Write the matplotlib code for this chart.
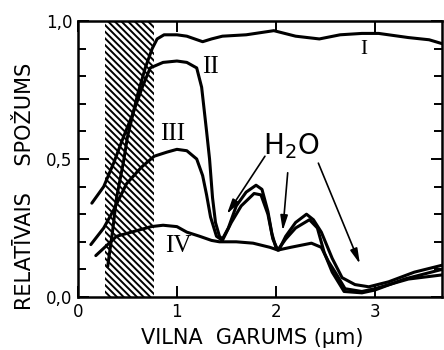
import matplotlib
matplotlib.use("Agg")
import matplotlib.pyplot as plt
from matplotlib.ticker import FixedLocator, MultipleLocator

# ---- data ----
x_I = [0.30, 0.35, 0.39, 0.46, 0.50, 0.60, 0.68, 0.75, 0.80, 0.87, 1.00, 1.10, 1.26, 1.35, 1.46,
       1.70, 1.98, 2.20, 2.44, 2.65, 2.87, 3.04, 3.34, 3.55, 3.68]
y_I = [0.11, 0.24, 0.36, 0.49, 0.58, 0.73, 0.83, 0.90, 0.935, 0.95, 0.95, 0.945, 0.925, 0.935, 0.945,
       0.95, 0.965, 0.945, 0.935, 0.950, 0.955, 0.955, 0.94, 0.932, 0.918]

x_II = [0.14, 0.26, 0.36, 0.46, 0.55, 0.65, 0.73, 0.86, 1.00, 1.10, 1.20, 1.25, 1.30, 1.33, 1.36,
        1.39, 1.43, 1.46, 1.52, 1.60, 1.70, 1.80, 1.86, 1.92, 1.96, 2.00, 2.03, 2.10, 2.20, 2.31,
        2.38, 2.46, 2.57, 2.67, 2.80, 2.94, 3.14, 3.40, 3.68]
y_II = [0.34, 0.40, 0.485, 0.58, 0.66, 0.76, 0.83, 0.85, 0.855, 0.85, 0.83, 0.76, 0.60, 0.50, 0.36,
        0.27, 0.22, 0.21, 0.25, 0.33, 0.38, 0.405, 0.39, 0.31, 0.23, 0.18, 0.17, 0.22, 0.27, 0.30,
        0.28, 0.235, 0.14, 0.07, 0.045, 0.037, 0.055, 0.09, 0.115]

x_III = [0.13, 0.26, 0.36, 0.49, 0.64, 0.77, 0.90, 1.00, 1.10, 1.20, 1.26, 1.30, 1.34, 1.40, 1.46,
         1.55, 1.65, 1.78, 1.85, 1.92, 1.97, 2.02, 2.10, 2.20, 2.34, 2.42, 2.49, 2.57, 2.69, 2.87,
         3.00, 3.30, 3.68]
y_III = [0.19, 0.25, 0.315, 0.41, 0.47, 0.51, 0.525, 0.535, 0.53, 0.50, 0.44, 0.37, 0.29, 0.22, 0.205,
         0.27, 0.33, 0.375, 0.37, 0.30, 0.21, 0.17, 0.21, 0.25, 0.28, 0.25, 0.16, 0.09, 0.02, 0.015,
         0.025, 0.065, 0.10]

x_IV = [0.18, 0.39, 0.54, 0.74, 0.86, 1.00, 1.10, 1.23, 1.35, 1.43, 1.60, 1.77, 1.94, 2.02, 2.15,
        2.36, 2.46, 2.53, 2.60, 2.70, 2.87, 3.00, 3.34, 3.68]
y_IV = [0.15, 0.22, 0.235, 0.255, 0.26, 0.255, 0.235, 0.22, 0.205, 0.20, 0.20, 0.195, 0.18, 0.17, 0.18,
        0.195, 0.18, 0.13, 0.09, 0.03, 0.02, 0.03, 0.065, 0.08]

band = [0.27, 0.77]
curve_names = ["I", "II", "III", "IV"]
y_tick_vals = [0.0, 0.5, 1.0]
y_tick_labels = ["0,0", "0,5", "1,0"]
x_tick_vals = [0, 1, 2, 3]
x_tick_labels = ["0", "1", "2", "3"]

plt.rcParams['hatch.linewidth'] = 1.4
fig = plt.figure(figsize=(4.44, 3.5), dpi=100)
ax = fig.add_axes([78/444, 1-297/350, (442-78)/444, (297-21)/350])

ax.axvspan(band[0], band[1], facecolor="white", edgecolor="black", hatch="\\\\\\\\\\", linewidth=0)

for xs, ys in [(x_I, y_I), (x_II, y_II), (x_III, y_III), (x_IV, y_IV)]:
    ax.plot(xs, ys, color="black", lw=2.2, solid_joinstyle="round", solid_capstyle="round")

ax.set_xlim(0, 3.68)
ax.set_ylim(0, 1.0)

for s in ax.spines.values():
    s.set_linewidth(1.8)

ax.yaxis.set_major_locator(FixedLocator(y_tick_vals))
ax.set_yticklabels(y_tick_labels)
ax.yaxis.set_minor_locator(MultipleLocator(0.1))
ax.xaxis.set_major_locator(FixedLocator(x_tick_vals))
ax.set_xticklabels(x_tick_labels)
ax.tick_params(axis="both", which="both", direction="in", top=True, right=True, width=1.4)
ax.tick_params(axis="both", which="major", length=8, labelsize=12, pad=4)
ax.tick_params(axis="y", which="minor", length=6)

# curve labels
tkw = dict(family="Liberation Serif", color="black", ha="center", va="center")
ax.text(2.89, 0.895, curve_names[0], fontsize=15, **tkw)
ax.text(1.34, 0.835, curve_names[1], fontsize=18, **tkw)
ax.text(0.96, 0.59, curve_names[2], fontsize=18, **tkw)
ax.text(1.01, 0.185, curve_names[3], fontsize=18, **tkw)

ax.text(2.16, 0.545, "H$_2$O", fontsize=20, ha="center", va="center",
        family="DejaVu Sans")

akw = dict(arrowstyle="-|>,head_length=0.9,head_width=0.22", color="black", lw=1.2,
           shrinkA=0, shrinkB=0)
ax.annotate("", xy=(1.505, 0.30), xytext=(1.89, 0.51), arrowprops=akw)
ax.annotate("", xy=(2.07, 0.24), xytext=(2.12, 0.45), arrowprops=akw)
ax.annotate("", xy=(2.85, 0.12), xytext=(2.43, 0.485), arrowprops=akw)

fig.text(25/444, 1-186/350, "RELATĪVAIS    SPOŽUMS", rotation=90, ha="center", va="center",
         fontsize=15)
fig.text(252/444, 1-338/350, "VILNA  GARUMS (µm)", ha="center", va="center", fontsize=15)

fig.savefig("out.png", dpi=100)
